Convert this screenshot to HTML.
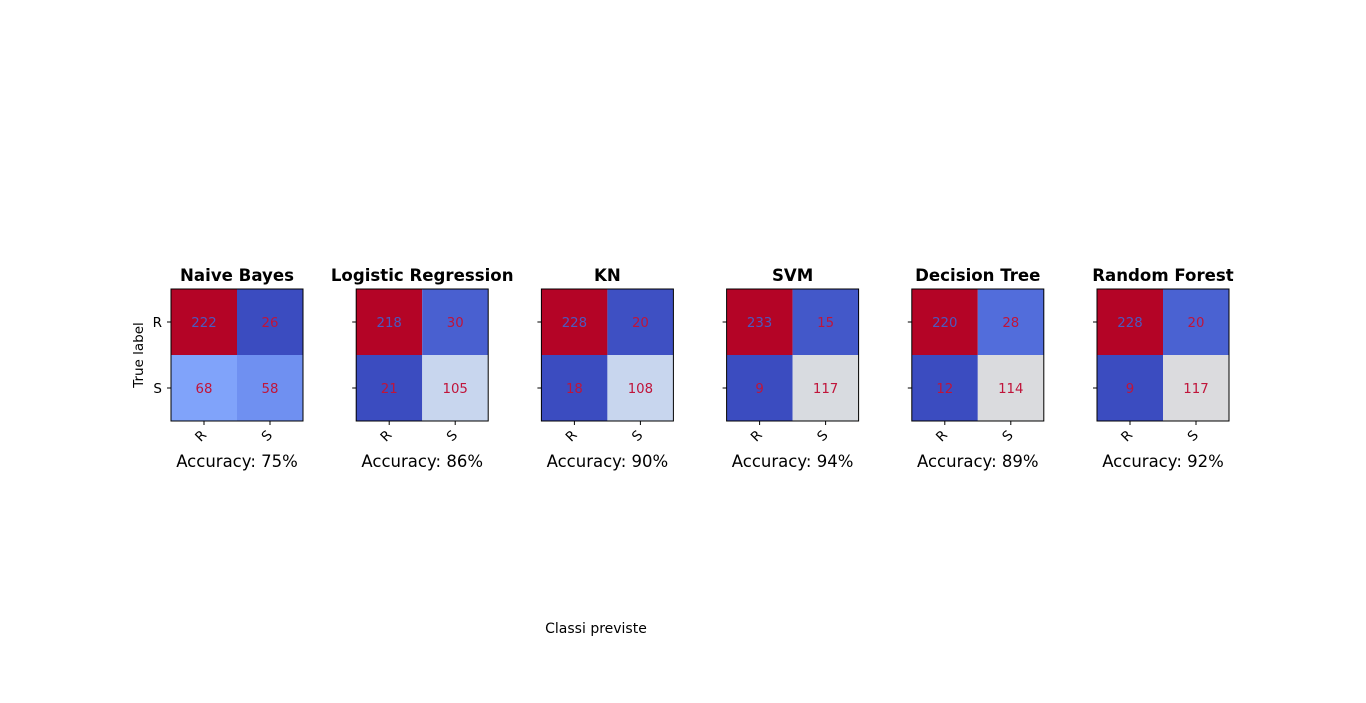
<!DOCTYPE html>
<html><head><meta charset="utf-8">
<style>
html,body{margin:0;padding:0;background:#fff;}
svg{display:block;font-family:"DejaVu Sans","Liberation Sans",sans-serif;}
</style></head>
<body>
<svg id="chart" width="1366" height="703" viewBox="0 0 1366 703" xmlns="http://www.w3.org/2000/svg">
<text x="596" y="633" font-size="14" text-anchor="middle">Classi previste</text>
<text x="0" y="0" font-size="13.5" text-anchor="middle" transform="translate(143,355) rotate(-90)">True label</text>
</svg>
<script>
const models = ["Naive Bayes","Logistic Regression","KN","SVM","Decision Tree","Random Forest"];
const accuracies = [75,86,90,94,89,92];
const tn = [222,218,228,233,220,228];
const fp = [26,30,20,15,28,20];
const fn = [68,21,18,9,12,9];
const tp = [58,105,108,117,114,117];
const classLabels = ["R","S"];

const svg = document.getElementById('chart');
const NS = "http://www.w3.org/2000/svg";
const panelX0 = 171, panelStep = 185.2, panelY0 = 289, cell = 66;
const stops = ["#3b4cc0","#5977e3","#7b9ff9","#9ebeff","#c0d4f5","#dddcdc","#f2cbb7","#f7ac8e","#ee8468","#d65244","#b40426"];
function hex(h){return [1,3,5].map(i=>parseInt(h.substr(i,2),16));}
function coolwarm(t){
  t=Math.max(0,Math.min(1,t));
  const p=t*10, i=Math.min(9,Math.floor(p)), f=p-i;
  const a=hex(stops[i]), b=hex(stops[i+1]);
  return "rgb("+a.map((v,k)=>Math.round(v+(b[k]-v)*f)).join(",")+")";
}
function mk(tag,attrs,text){
  const e=document.createElementNS(NS,tag);
  for(const k in attrs) e.setAttribute(k,attrs[k]);
  if(text!==undefined) e.textContent=text;
  svg.appendChild(e); return e;
}
models.forEach((m,p)=>{
  const x0 = panelX0 + p*panelStep;
  const vals=[[tn[p],fp[p]],[fn[p],tp[p]]];
  const flat=vals.flat(), mn=Math.min(...flat), mx=Math.max(...flat);
  const t=mk('text',{x:x0+cell,y:panelY0-8,'font-size':16.6,'font-weight':'bold','text-anchor':'middle'},m);
  
  
  for(let r=0;r<2;r++)for(let c=0;c<2;c++){
    const v=vals[r][c], n=(v-mn)/(mx-mn);
    const rc=mk('rect',{x:x0+c*cell,y:panelY0+r*cell,width:cell,height:cell,fill:coolwarm(n)});
    
    
    const tx=mk('text',{x:x0+c*cell+cell/2,y:panelY0+r*cell+cell/2+5,'font-size':13.3,'text-anchor':'middle',fill:n>0.5?'#4a5ac0':'#c0143a'},String(v));
    
    
  }
  const fr=mk('rect',{x:x0,y:panelY0,width:2*cell,height:2*cell,fill:'none',stroke:'#000','stroke-width':1});
  
  
  classLabels.forEach((lab,i)=>{
    const cx=x0+i*cell+cell/2, cy=panelY0+i*cell+cell/2;
    mk('line',{x1:cx,y1:panelY0+2*cell,x2:cx,y2:panelY0+2*cell+4,stroke:'#000'});
    mk('line',{x1:x0-4,y1:cy,x2:x0,y2:cy,stroke:'#000'});
    const xl=mk('text',{x:0,y:0,'font-size':13.5,'text-anchor':'middle',transform:`translate(${cx},${panelY0+2*cell+18}) rotate(-45)`},lab);
    
    
    if(p===0){
      const yl=mk('text',{x:x0-9,y:cy+5,'font-size':13.5,'text-anchor':'end'},lab);
      
      
    }
  });
  const ac=mk('text',{x:x0+cell,y:467,'font-size':16.5,'text-anchor':'middle'},"Accuracy: "+accuracies[p]+"%");
  
  
});
</script>
</body></html>
